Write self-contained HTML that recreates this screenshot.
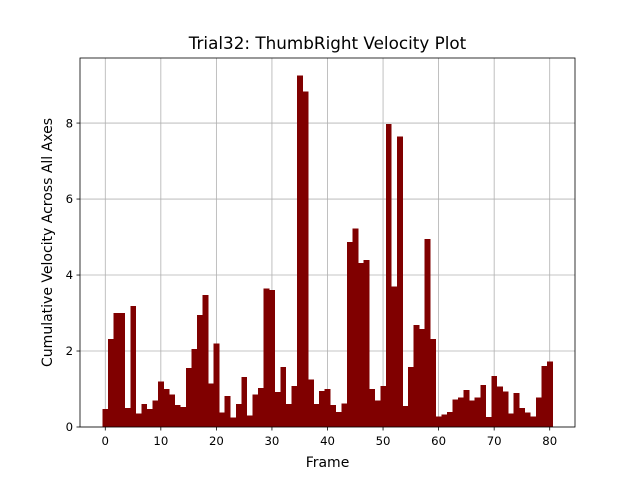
<!DOCTYPE html>
<html><head><meta charset="utf-8"><style>
body{margin:0;background:#fff;}
svg text{font-family:"DejaVu Sans","Liberation Sans",sans-serif;}
</style></head><body>
<svg id="chart" width="640" height="480" xmlns="http://www.w3.org/2000/svg">
<rect width="640" height="480" fill="#fff"/>
<text x="327.5" y="49" font-size="16.8" text-anchor="middle">Trial32: ThumbRight Velocity Plot</text>
<g id="grid"></g>
<g id="bars" shape-rendering="crispEdges"></g>
<rect x="80" y="58" width="495" height="369" fill="none" stroke="#000" stroke-width="0.8"/>
<g id="ticks"></g>
<text x="327.5" y="467" font-size="14" text-anchor="middle">Frame</text>
<text transform="translate(52,242.5) rotate(-90)" font-size="14" text-anchor="middle">Cumulative Velocity Across All Axes</text>
</svg>
<script>
const frames = Array.from({length:81},(_,i)=>i);
const velocities = [0.48,2.32,3.0,3.0,0.5,3.18,0.35,0.6,0.48,0.7,1.2,1.0,0.85,0.58,0.52,1.55,2.05,2.95,3.48,1.15,2.2,0.38,0.82,0.25,0.6,1.32,0.3,0.85,1.02,3.65,3.6,0.92,1.58,0.6,1.08,9.25,8.83,1.25,0.6,0.95,1.0,0.58,0.4,0.62,4.87,5.23,4.32,4.4,1.0,0.7,1.08,7.97,3.7,7.65,0.55,1.58,2.68,2.58,4.95,2.32,0.27,0.33,0.4,0.72,0.78,0.97,0.7,0.78,1.1,0.26,1.34,1.07,0.94,0.36,0.9,0.5,0.38,0.27,0.78,1.6,1.72];
const xTicks = [0,10,20,30,40,50,60,70,80];
const yTicks = [0,2,4,6,8];
const L=80,R=575,T=58,B=427;
const xmin=-4.55,xmax=84.55,ymax=9.7125;
const xs=v=>L+(v-xmin)/(xmax-xmin)*(R-L);
const ys=v=>B-v/ymax*(B-T);
const NS="http://www.w3.org/2000/svg";
const mk=(t,a,p)=>{const e=document.createElementNS(NS,t);for(const k in a)e.setAttribute(k,a[k]);p.appendChild(e);return e;};
const grid=document.getElementById('grid'),bars=document.getElementById('bars'),ticks=document.getElementById('ticks');
xTicks.forEach(t=>{
 const g=mk('line',{x1:xs(t),x2:xs(t),y1:T,y2:B,stroke:'#b0b0b0','stroke-width':0.8},grid);
 
 
 const k=mk('line',{x1:xs(t),x2:xs(t),y1:B,y2:B+3.5,stroke:'#000','stroke-width':0.8},ticks);
 
 
 const l=mk('text',{x:xs(t),y:B+18,'font-size':11.7,'text-anchor':'middle'},ticks);l.textContent=t;
 
 
});
yTicks.forEach(t=>{
 const g=mk('line',{x1:L,x2:R,y1:ys(t),y2:ys(t),stroke:'#b0b0b0','stroke-width':0.8},grid);
 
 
 const k=mk('line',{x1:L-3.5,x2:L,y1:ys(t),y2:ys(t),stroke:'#000','stroke-width':0.8},ticks);
 
 
 const l=mk('text',{x:L-7,y:ys(t)+4.2,'font-size':11.7,'text-anchor':'end'},ticks);l.textContent=t;
 
 
});
frames.forEach((f,i)=>{
 const v=velocities[i];
 const b=mk('rect',{x:xs(f-0.5),y:ys(v),width:xs(f+0.5)-xs(f-0.5)+0.3,height:B-ys(v),fill:'#800000'},bars);
 
 
});
</script>
</body></html>
